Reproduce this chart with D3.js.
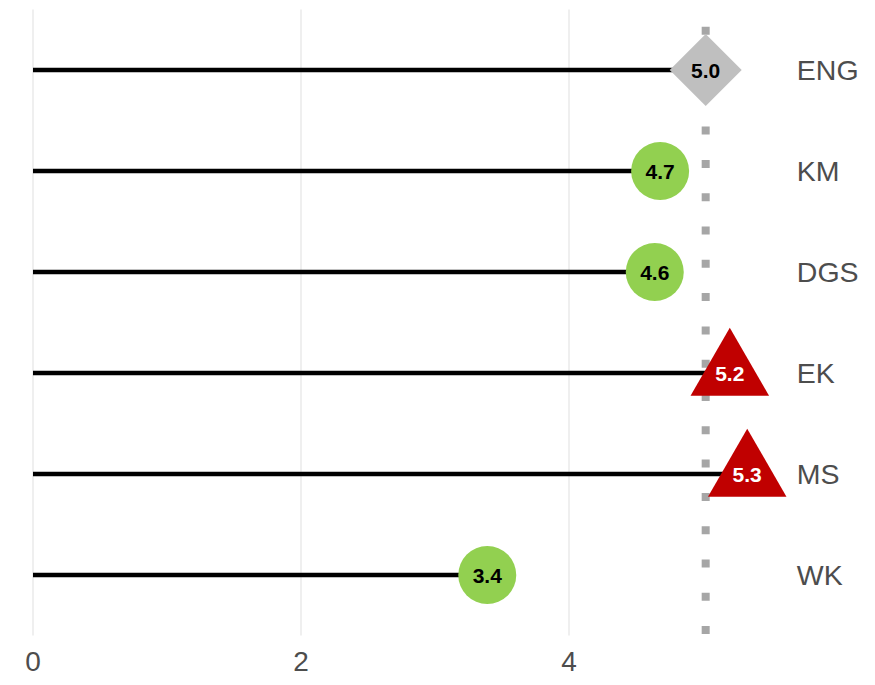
<!DOCTYPE html>
<html>
<head>
<meta charset="utf-8">
<script src="https://cdn.jsdelivr.net/npm/d3@7"></script>
<style>
  html, body { margin: 0; padding: 0; background: #ffffff; }
  svg { display: block; font-family: "Liberation Sans", Arial, sans-serif; }
</style>
</head>
<body>
<svg id="chart" width="875" height="685"></svg>
<script>
// ---- data ----
const categories = ["ENG", "KM", "DGS", "EK", "MS", "WK"];
const values = [5.02, 4.68, 4.64, 5.20, 5.33, 3.39];
const valueLabels = ["5.0", "4.7", "4.6", "5.2", "5.3", "3.4"];
const groups = ["Reference", "Below", "Below", "Above", "Above", "Below"];
const referenceValue = 5.02;
const xTicks = [0, 2, 4];
const xTickLabels = ["0", "2", "4"];
const labelPosition = 5.7;

// ---- layout ----
const svg = d3.select("#chart");

const x = d3.scaleLinear().domain([0, 6]).range([33, 33 + 6 * 134]);
const y = d3.scalePoint().domain(categories).range([70, 575]);
const panelTop = 70 - 0.6 * 101, panelBottom = 575 + 0.6 * 101;

const fillScale = d3.scaleOrdinal()
  .domain(["Reference", "Below", "Above"])
  .range(["#BFBFBF", "#92D050", "#C00000"]);
const textScale = d3.scaleOrdinal()
  .domain(["Reference", "Below", "Above"])
  .range(["#000000", "#000000", "#ffffff"]);
const shapeScale = d3.scaleOrdinal()
  .domain(["Reference", "Below", "Above"])
  .range([d3.symbolSquare, d3.symbolCircle, d3.symbolTriangle]);
const sizeScale = d3.scaleOrdinal()
  .domain(["Reference", "Below", "Above"])
  .range([2592, Math.PI * 29 * 29, 2670]);
const rotScale = d3.scaleOrdinal()
  .domain(["Reference", "Below", "Above"])
  .range([45, 0, 0]);

const data = categories.map((c, i) => ({
  cat: c, value: values[i], label: valueLabels[i], group: groups[i]
}));

// ---- grid ----
svg.append("g").selectAll("line").data(xTicks).join("line")
  .attr("x1", d => x(d)).attr("x2", d => x(d))
  .attr("y1", panelTop).attr("y2", panelBottom)
  .attr("stroke", "#ebebeb").attr("stroke-width", 1.6);

// ---- reference dotted line (drawn from bottom up) ----
svg.append("line")
  .attr("x1", x(referenceValue)).attr("x2", x(referenceValue))
  .attr("y1", panelBottom - 1.5).attr("y2", panelTop)
  .attr("stroke", "#A6A6A6").attr("stroke-width", 8)
  .attr("stroke-dasharray", "8,25.3");

// ---- segments ----
svg.append("g").selectAll("line").data(data).join("line")
  .attr("x1", x(0)).attr("x2", d => x(d.value))
  .attr("y1", d => y(d.cat)).attr("y2", d => y(d.cat))
  .attr("stroke", "#000000").attr("stroke-width", 4.3);

// ---- markers ----
svg.append("g").selectAll("path").data(data).join("path")
  .attr("d", d => d3.symbol(shapeScale(d.group), sizeScale(d.group))())
  .attr("transform", d => `translate(${x(d.value)},${y(d.cat)}) rotate(${rotScale(d.group)})`)
  .attr("fill", d => fillScale(d.group));

// ---- marker labels ----
svg.append("g").selectAll("text").data(data).join("text")
  .attr("x", d => x(d.value)).attr("y", d => y(d.cat))
  .attr("dy", "0.36em")
  .attr("text-anchor", "middle")
  .attr("font-size", 21).attr("font-weight", "bold")
  .attr("fill", d => textScale(d.group))
  .text(d => d.label);

// ---- category labels ----
svg.append("g").selectAll("text").data(data).join("text")
  .attr("x", x(labelPosition)).attr("y", d => y(d.cat))
  .attr("dy", "0.36em")
  .attr("text-anchor", "start")
  .attr("font-size", 28.5)
  .attr("fill", "#4d4d4d")
  .text(d => d.cat);

// ---- x axis tick labels ----
svg.append("g").selectAll("text").data(xTicks).join("text")
  .attr("x", d => x(d)).attr("y", 671)
  .attr("text-anchor", "middle")
  .attr("font-size", 28)
  .attr("fill", "#4d4d4d")
  .text((d, i) => xTickLabels[i]);
</script>
</body>
</html>
